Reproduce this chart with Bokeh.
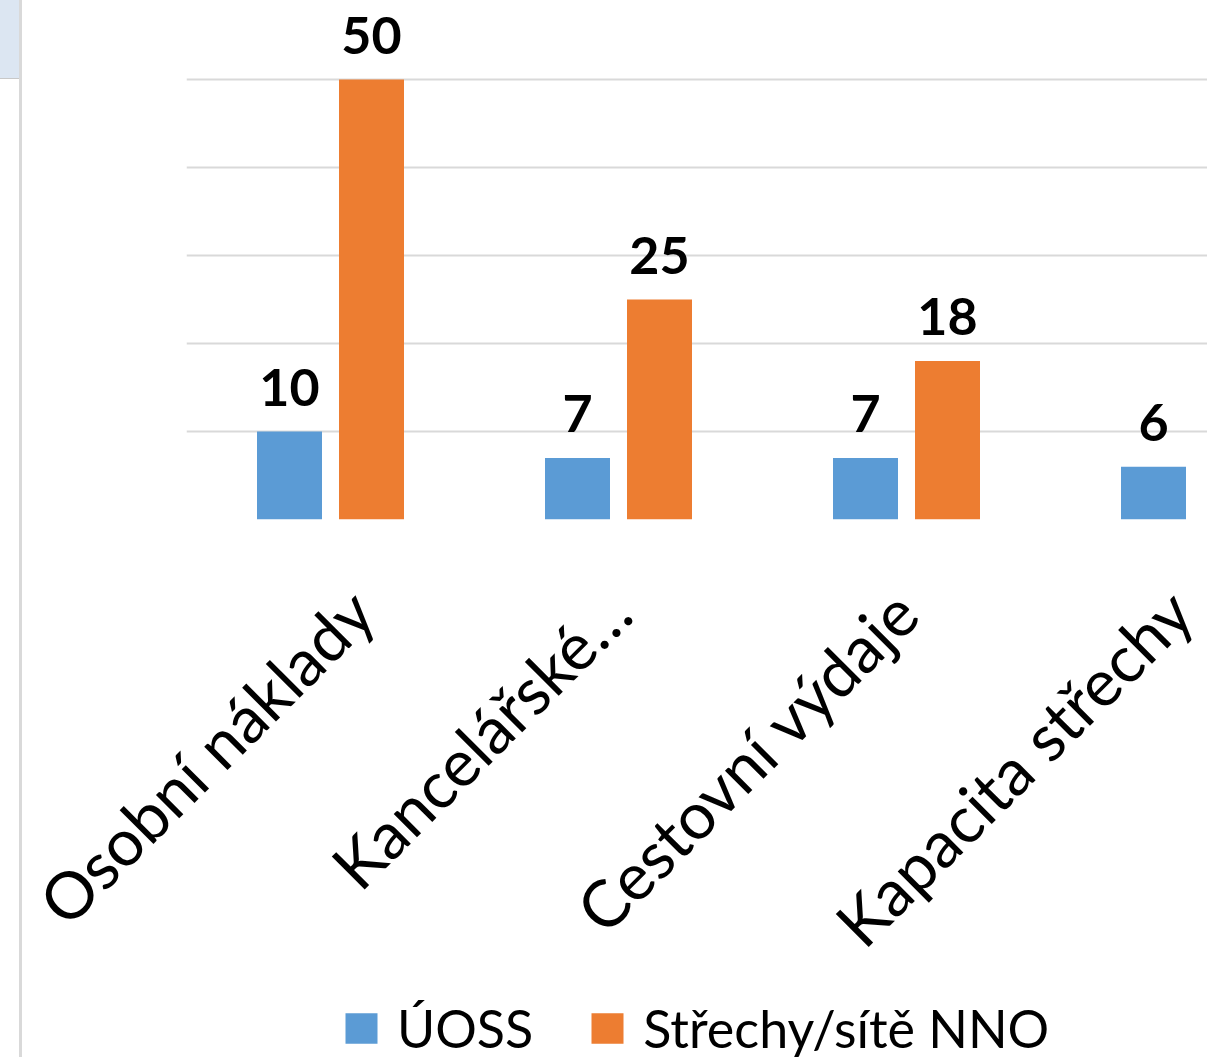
import math
from bokeh.plotting import figure
from bokeh.models import (ColumnDataSource, LabelSet, Range1d, FixedTicker,
                          Legend, LegendItem, Div)
from bokeh.layouts import row, column
from bokeh.core.properties import value
from bokeh.embed import file_html
from bokeh.resources import INLINE

# ---- data ----
categories = ["Osobní náklady", "Kancelářské…", "Cestovní výdaje", "Kapacita střechy"]
series_names = ["ÚOSS", "Střechy/sítě NNO"]
uoss = [10, 7, 7, 6]
nno = [50, 25, 18]          # 4th bar lies outside the visible crop
y_ticks = [0, 10, 20, 30, 40, 50]
colors = ["#5B9BD5", "#ED7D31"]

FONT = "Lato"
SIDE_W = 22
W = 1207 - SIDE_W
H = 1000                  # chart figure
LH = 1057 - H             # legend strip
FRAME_LEFT = 164
FRAME_BOTTOM = 519
PX_PER_CAT = 288
PX_PER_UNIT = 8.8

pos = [i + 0.5 for i in range(len(categories))]
off = 41 / PX_PER_CAT
bw = 65 / PX_PER_CAT

src_a = ColumnDataSource(dict(x=[q - off for q in pos[:len(uoss)]], top=uoss,
                              lab=[str(v) for v in uoss]))
src_b = ColumnDataSource(dict(x=[q + off for q in pos[:len(nno)]], top=nno,
                              lab=[str(v) for v in nno]))

p = figure(width=W, height=H, output_backend="svg", toolbar_location=None,
           x_range=Range1d(0, (W - FRAME_LEFT) / PX_PER_CAT),
           y_range=Range1d(0, FRAME_BOTTOM / PX_PER_UNIT),
           min_border_left=FRAME_LEFT, min_border_right=0, min_border_top=0,
           min_border_bottom=H - FRAME_BOTTOM)
p.outline_line_color = None
p.background_fill_color = "white"
p.border_fill_color = "white"

ra = p.vbar(x="x", top="top", width=bw, source=src_a, color=colors[0], line_color=None)
rb = p.vbar(x="x", top="top", width=bw, source=src_b, color=colors[1], line_color=None)

for src in (src_a, src_b):
    p.add_layout(LabelSet(x="x", y="top", text="lab", source=src, y_offset=26,
                          text_align="center", text_baseline="alphabetic",
                          text_font=value(FONT), text_font_style="bold",
                          text_font_size="52px", text_color="black"))

p.yaxis.visible = False
p.xgrid.grid_line_color = None
p.ygrid.ticker = FixedTicker(ticks=y_ticks)
p.ygrid.grid_line_color = "#D9D9D9"
p.ygrid.grid_line_width = 2

xa = p.xaxis[0]
xa.ticker = FixedTicker(ticks=pos)
xa.major_label_overrides = {q: c for q, c in zip(pos, categories)}
xa.major_label_orientation = math.pi / 4
xa.major_label_text_font = FONT
xa.major_label_text_font_size = "65px"
xa.major_label_text_color = "black"
xa.major_label_standoff = 75
xa.axis_line_color = None
xa.major_tick_line_color = None
xa.minor_tick_line_color = None

# ---- legend strip (frame is aligned with the chart's frame by the column) ----
lf = figure(width=W, height=LH, output_backend="svg", toolbar_location=None,
            x_range=Range1d(0, 1), y_range=Range1d(0, 1),
            min_border_left=FRAME_LEFT, min_border_right=0,
            min_border_top=0, min_border_bottom=0)
lf.axis.visible = False
lf.grid.visible = False
lf.outline_line_color = None
# legend swatches only (their single bar sits far outside the visible range)
la = lf.vbar(x=[50], top=[1], width=0.1, color=colors[0], line_color=None)
lb = lf.vbar(x=[50], top=[1], width=0.1, color=colors[1], line_color=None)
legend = Legend(items=[LegendItem(label=series_names[0], renderers=[la]),
                       LegendItem(label=series_names[1], renderers=[lb])],
                orientation="horizontal", location=(341 - SIDE_W - FRAME_LEFT, -2),
                glyph_width=40, glyph_height=38, label_standoff=16, spacing=54,
                label_text_font=FONT, label_text_font_size="52px",
                label_text_color="black", border_line_color=None,
                background_fill_alpha=0, padding=0, margin=0)
lf.add_layout(legend, "center")

side = Div(text='<div style="width:19px;height:79px;background:#DCE6F2;'
                'border-bottom:1px solid #C8C8C8;box-sizing:border-box"></div>',
           width=SIDE_W, height=H + LH, margin=0,
           styles={"border-right": "3px solid #D9D9D9", "box-sizing": "border-box",
                   "padding": "0", "margin": "0"})

layout = row(side, column(p, lf, spacing=0), spacing=0)
open("out.html", "w").write(file_html(layout, INLINE))
